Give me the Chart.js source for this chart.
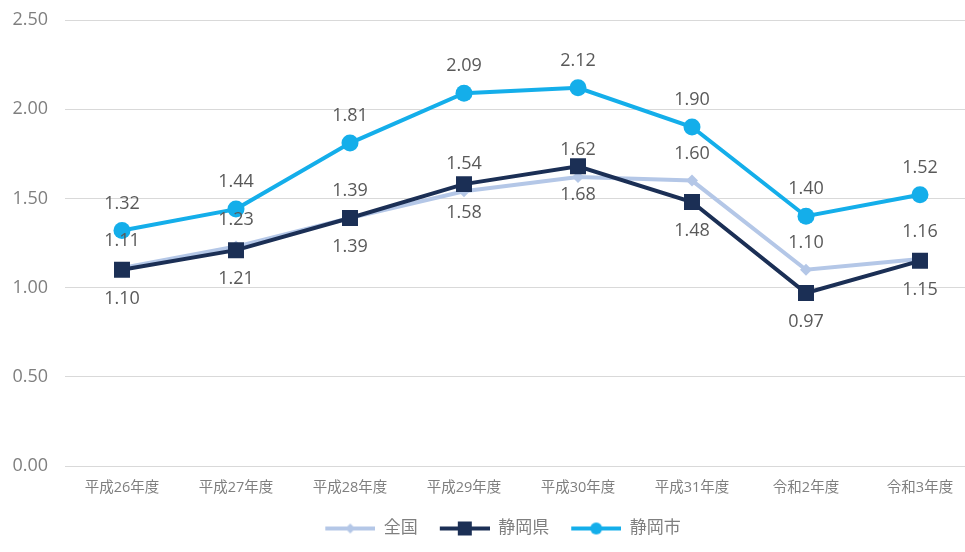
<!DOCTYPE html>
<html><head><meta charset="utf-8">
<script src="https://cdn.jsdelivr.net/npm/chart.js@4"></script>
<style>html,body{margin:0;padding:0;background:#fff;overflow:hidden}#wrap{width:1000px;height:552px}</style>
</head><body><div id="wrap"><canvas id="c" width="1000" height="552"></canvas></div>
<script>
const categories = ['平成26年度','平成27年度','平成28年度','平成29年度','平成30年度','平成31年度','令和2年度','令和3年度'];
const zenkoku = [1.11, 1.23, 1.39, 1.54, 1.62, 1.60, 1.10, 1.16];
const shizuokaKen = [1.10, 1.21, 1.39, 1.58, 1.68, 1.48, 0.97, 1.15];
const shizuokaShi = [1.32, 1.44, 1.81, 2.09, 2.12, 1.90, 1.40, 1.52];
const seriesNames = ['全国', '静岡県', '静岡市'];
const yMin = 0, yMax = 2.5, yStep = 0.5;

const FONT = '"Open Sans", "Noto Sans CJK JP", sans-serif';
const colZen = '#B4C7E7', colKen = '#1B2F55', colShi = '#14AEEA';

function legendIcon(color, style, r) {
  const cv = document.createElement('canvas');
  cv.width = 56; cv.height = 20;
  const g = cv.getContext('2d');
  g.strokeStyle = color; g.lineWidth = 4;
  g.beginPath(); g.moveTo(6, 10); g.lineTo(56, 10); g.stroke();
  g.fillStyle = color;
  g.beginPath();
  const cx = 31;
  if (style === 'circle') { g.arc(cx, 10, r, 0, Math.PI * 2); }
  else if (style === 'rect') { g.rect(cx - r, 10 - r, 2 * r, 2 * r); }
  else { g.moveTo(cx, 10 - r); g.lineTo(cx + r, 10); g.lineTo(cx, 10 + r); g.lineTo(cx - r, 10); g.closePath(); }
  g.fill();
  return cv;
}
const icons = [legendIcon(colZen, 'rectRot', 5), legendIcon(colKen, 'rect', 7), legendIcon(colShi, 'circle', 6)];

const labelOffsets = [-27, 29, -27];
const dataLabels = {
  id: 'dataLabels',
  afterDatasetsDraw(chart) {
    const ctx = chart.ctx;
    ctx.save();
    ctx.font = '18px ' + FONT;
    ctx.fillStyle = '#595959';
    ctx.textAlign = 'center';
    ctx.textBaseline = 'middle';
    chart.data.datasets.forEach((ds, i) => {
      const meta = chart.getDatasetMeta(i);
      meta.data.forEach((pt, j) => {
        ctx.fillText(ds.data[j].toFixed(2), pt.x, pt.y + labelOffsets[i]);
      });
    });
    ctx.restore();
  }
};

new Chart(document.getElementById('c'), {
  type: 'line',
  data: {
    labels: categories,
    datasets: [
      { label: seriesNames[0], data: zenkoku, borderColor: colZen, backgroundColor: colZen, borderWidth: 4,
        pointStyle: 'rectRot', pointRadius: 6, pointBorderWidth: 0, order: 3 },
      { label: seriesNames[1], data: shizuokaKen, borderColor: colKen, backgroundColor: colKen, borderWidth: 4,
        pointStyle: 'rect', pointRadius: 11.3, pointBorderWidth: 0, order: 2 },
      { label: seriesNames[2], data: shizuokaShi, borderColor: colShi, backgroundColor: colShi, borderWidth: 4,
        pointStyle: 'circle', pointRadius: 8.5, pointBorderWidth: 0, order: 1 }
    ]
  },
  options: {
    responsive: false,
    animation: false,
    devicePixelRatio: 1,
    layout: { padding: { top: 20, bottom: 5, left: 0, right: 0 } },
    plugins: {
      tooltip: { enabled: false },
      legend: {
        position: 'bottom',
        labels: {
          usePointStyle: true,
          pointStyleWidth: 56,
          padding: 16,
          color: '#7f7f7f',
          font: { size: 17, family: FONT },
          generateLabels(chart) {
            return chart.data.datasets.map((ds, i) => ({
              text: ds.label, pointStyle: icons[i], datasetIndex: i,
              fillStyle: ds.borderColor, strokeStyle: ds.borderColor, lineWidth: 0, hidden: false,
              fontColor: '#7f7f7f'
            }));
          }
        }
      }
    },
    scales: {
      x: {
        offset: true,
        grid: { display: false, drawTicks: false },
        border: { display: false },
        ticks: { color: '#7f7f7f', font: { size: 14.5, family: FONT }, padding: 13, maxRotation: 0 },
        afterFit(s) { s.height = 38; s.paddingLeft = 0; s.paddingRight = 0; }
      },
      y: {
        min: yMin, max: yMax,
        grid: { color: '#d9d9d9', lineWidth: 1, drawTicks: false },
        border: { display: false },
        ticks: { stepSize: yStep, color: '#7f7f7f', font: { size: 18, family: FONT }, padding: 17,
          callback: v => Number(v).toFixed(2) },
        afterFit(s) { s.width = 65; s.paddingTop = 0; s.paddingBottom = 0; }
      },
      y2: {
        position: 'right', display: true, min: yMin, max: yMax,
        grid: { display: false }, border: { display: false }, ticks: { display: false },
        afterFit(s) { s.width = 23; s.paddingTop = 0; s.paddingBottom = 0; }
      }
    }
  },
  plugins: [dataLabels]
});
</script></body></html>
